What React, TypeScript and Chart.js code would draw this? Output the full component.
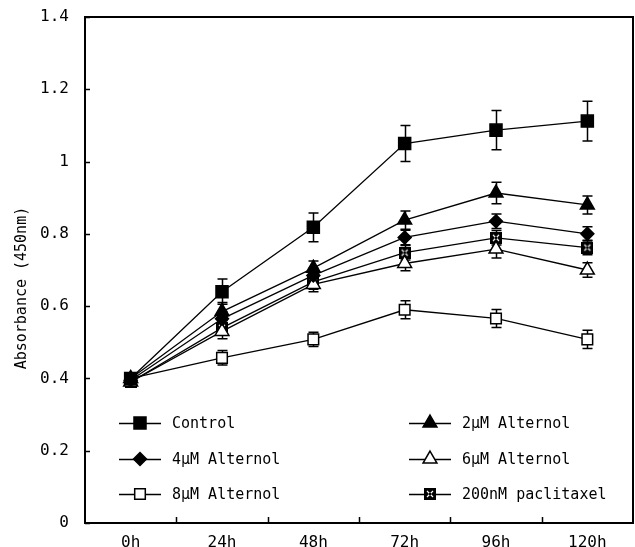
import React, { useEffect, useRef } from 'react';
import { Chart, registerables } from 'chart.js';
import { drawPoint } from 'chart.js/helpers';

Chart.register(...registerables);

const categories = ['0h', '24h', '48h', '72h', '96h', '120h'];
const yTickLabels = ['0', '0.2', '0.4', '0.6', '0.8', '1', '1.2', '1.4'];

const seriesNames = ['Control', '2\u00b5M Alternol', '4\u00b5M Alternol', '6\u00b5M Alternol', '8\u00b5M Alternol', '200nM paclitaxel'];

const controlValues = [0.40, 0.64, 0.818, 1.05, 1.087, 1.112];
const alt2Values = [0.40, 0.585, 0.705, 0.838, 0.913, 0.88];
const alt4Values = [0.395, 0.565, 0.685, 0.79, 0.835, 0.80];
const alt6Values = [0.39, 0.53, 0.66, 0.718, 0.758, 0.70];
const alt8Values = [0.40, 0.457, 0.508, 0.59, 0.566, 0.508];
const paclitaxelValues = [0.39, 0.54, 0.667, 0.748, 0.789, 0.762];

const controlErrors = [0.01, 0.035, 0.04, 0.05, 0.054, 0.055];
const alt2Errors = [0.01, 0.025, 0.02, 0.025, 0.03, 0.025];
const alt4Errors = [0.01, 0.02, 0.02, 0.02, 0.02, 0.02];
const alt6Errors = [0.01, 0.02, 0.02, 0.02, 0.025, 0.02];
const alt8Errors = [0.01, 0.02, 0.02, 0.025, 0.025, 0.025];
const paclitaxelErrors = [0.01, 0.02, 0.02, 0.02, 0.02, 0.02];

const FONT = '"DejaVu Sans Mono", monospace';

function makeCrossSquare(): HTMLCanvasElement {
  const c = document.createElement('canvas');
  c.width = 12;
  c.height = 12;
  const g = c.getContext('2d')!;
  g.fillStyle = '#000';
  g.fillRect(0, 0, 12, 12);
  g.strokeStyle = '#fff';
  g.lineWidth = 1.2;
  g.beginPath();
  g.moveTo(3, 3); g.lineTo(9, 9);
  g.moveTo(9, 3); g.lineTo(3, 9);
  g.stroke();
  g.fillStyle = '#000';
  g.fillRect(5, 5, 2, 2);
  return c;
}

export default function App() {
  const ref = useRef<HTMLCanvasElement | null>(null);

  useEffect(() => {
    if (!ref.current) return;
    const cross = makeCrossSquare();

    const styles: any[] = [
      { pointStyle: 'rect', radius: 8.5, bg: '#000' },
      { pointStyle: 'triangle', radius: 8, bg: '#000' },
      { pointStyle: 'rectRot', radius: 6.5, bg: '#000' },
      { pointStyle: 'triangle', radius: 8, bg: '#fff' },
      { pointStyle: 'rect', radius: 7.5, bg: '#fff' },
      { pointStyle: cross, radius: 6, bg: '#000' },
    ];
    const valueSets = [controlValues, alt2Values, alt4Values, alt6Values, alt8Values, paclitaxelValues];
    const errorSets = [controlErrors, alt2Errors, alt4Errors, alt6Errors, alt8Errors, paclitaxelErrors];

    const datasets = valueSets.map((vals, i) => ({
      label: seriesNames[i],
      data: vals,
      borderColor: '#000',
      borderWidth: 1.3,
      backgroundColor: styles[i].bg,
      pointStyle: styles[i].pointStyle,
      pointRadius: styles[i].radius,
      pointBorderColor: '#000',
      pointBackgroundColor: styles[i].bg,
      pointBorderWidth: 1.5,
      tension: 0,
      fill: false,
      clip: false,
    }));

    const frame = {
      id: 'frame',
      beforeDatasetsDraw(chart: any) {
        const { ctx, chartArea: a, scales } = chart;
        const x = scales.x;
        const y = scales.y;
        ctx.save();
        ctx.strokeStyle = '#000';
        ctx.lineWidth = 2;
        ctx.strokeRect(a.left, a.top, a.right - a.left, a.bottom - a.top);
        ctx.lineWidth = 1.5;
        ctx.beginPath();
        yTickLabels.forEach((t) => {
          const py = Math.round(y.getPixelForValue(parseFloat(t))) + 0.5;
          ctx.moveTo(a.left, py);
          ctx.lineTo(a.left + 5, py);
        });
        const step = x.getPixelForValue(1) - x.getPixelForValue(0);
        for (let i = 0; i < categories.length - 1; i++) {
          const px = Math.round(x.getPixelForValue(i) + step / 2) + 0.5;
          ctx.moveTo(px, a.bottom);
          ctx.lineTo(px, a.bottom - 6);
        }
        ctx.stroke();
        ctx.lineWidth = 1.5;
        errorSets.forEach((errs, si) => {
          valueSets[si].forEach((v, i) => {
            const px = Math.round(x.getPixelForValue(i)) + 0.5;
            const top = y.getPixelForValue(v + errs[i]);
            const bot = y.getPixelForValue(v - errs[i]);
            ctx.beginPath();
            ctx.moveTo(px, top); ctx.lineTo(px, bot);
            ctx.moveTo(px - 5, top); ctx.lineTo(px + 5, top);
            ctx.moveTo(px - 5, bot); ctx.lineTo(px + 5, bot);
            ctx.stroke();
          });
        });
        ctx.restore();
      },
      afterDatasetsDraw(chart: any) {
        const { ctx } = chart;
        const cols = [140, 430];
        const rows = [423, 459, 494];
        ctx.save();
        ctx.font = '15px ' + FONT;
        ctx.textBaseline = 'middle';
        ctx.textAlign = 'left';
        seriesNames.forEach((name, i) => {
          const cx = cols[i % 2];
          const cy = rows[Math.floor(i / 2)];
          ctx.strokeStyle = '#000';
          ctx.lineWidth = 1.5;
          ctx.beginPath();
          ctx.moveTo(cx - 21, cy + 0.5);
          ctx.lineTo(cx + 21, cy + 0.5);
          ctx.stroke();
          ctx.fillStyle = styles[i].bg;
          drawPoint(ctx, { pointStyle: styles[i].pointStyle, radius: styles[i].radius, rotation: 0, borderWidth: 1.5 }, cx, cy);
          ctx.fillStyle = '#000';
          ctx.fillText(name, cx + 32, cy + 1);
        });
        ctx.restore();
      },
    };

    const chart = new Chart(ref.current, {
      type: 'line',
      data: { labels: categories, datasets },
      options: {
        animation: false,
        responsive: false,
        maintainAspectRatio: false,
        layout: { autoPadding: false, padding: { top: 17, right: 2, left: 0, bottom: 0 } },
        plugins: { legend: { display: false }, tooltip: { enabled: false } },
        scales: {
          x: {
            type: 'category',
            offset: true,
            grid: { display: false, drawTicks: false },
            border: { display: false },
            ticks: { color: '#000', font: { family: FONT, size: 16 }, padding: 10, maxRotation: 0 },
            afterFit(s: any) { s.height = 24; s.paddingLeft = 0; s.paddingRight = 0; },
          },
          y: {
            min: 0,
            max: 1.4,
            grid: { display: false, drawTicks: false },
            border: { display: false },
            ticks: {
              stepSize: 0.2,
              color: '#000',
              font: { family: FONT, size: 16 },
              padding: 16,
              callback: (v: any) => yTickLabels[Math.round(Number(v) / 0.2)] ?? '',
            },
            title: {
              display: true,
              text: 'Absorbance (450nm)    ',
              color: '#000',
              font: { family: FONT, size: 15, weight: 'normal' },
              padding: { top: 13, bottom: 0 },
            },
            afterFit(s: any) { s.width = 85; s.paddingTop = 0; s.paddingBottom = 0; },
          },
        },
      },
      plugins: [frame],
    } as any);
    return () => chart.destroy();
  }, []);

  return (
    <div style={{ position: 'fixed', left: 0, top: 0, width: 635, height: 547, background: '#fff' }}>
      <canvas ref={ref} width={635} height={547} style={{ width: 635, height: 547, display: 'block' }} />
    </div>
  );
}
